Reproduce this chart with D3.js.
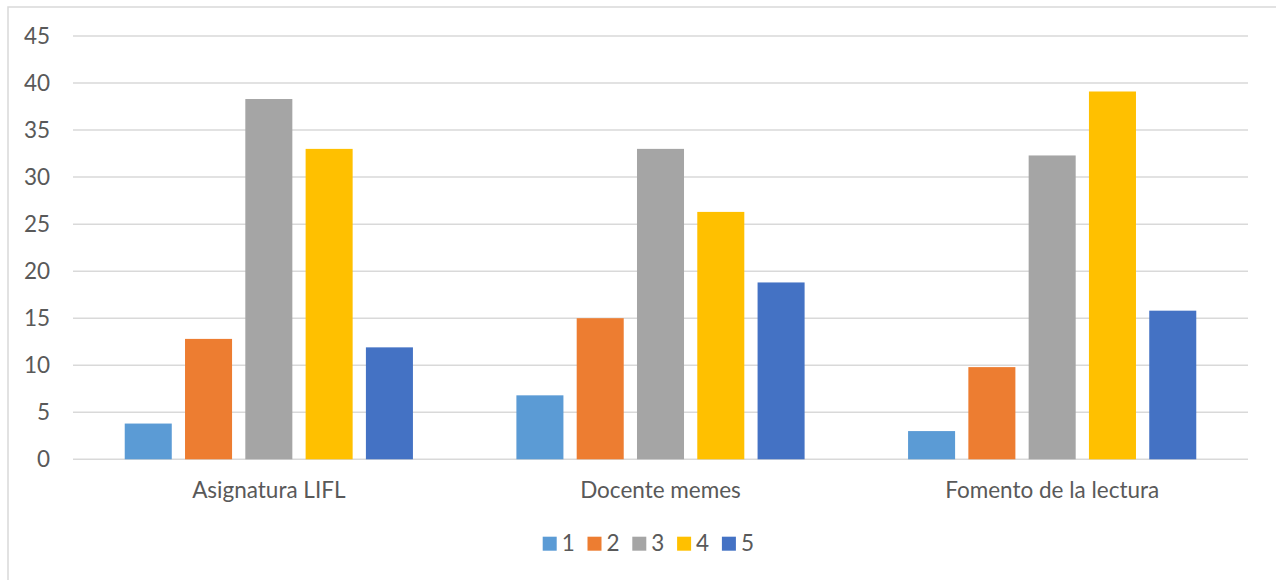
<!DOCTYPE html>
<html>
<head>
<meta charset="utf-8">
<script src="https://cdn.jsdelivr.net/npm/d3@7"></script>
<style>
  html, body { margin: 0; padding: 0; background: #fff; }
  svg { display: block; }
  text { font-family: Lato, "Open Sans", sans-serif; fill: #595959; }
</style>
</head>
<body>
<svg id="chart" width="1276" height="580"></svg>
<script>
const categories = ["Asignatura LIFL", "Docente memes", "Fomento de la lectura"];
const seriesNames = ["1", "2", "3", "4", "5"];
const series1 = [3.8, 6.8, 3.0];
const series2 = [12.8, 15.0, 9.8];
const series3 = [38.3, 33.0, 32.3];
const series4 = [33.0, 26.3, 39.1];
const series5 = [11.9, 18.8, 15.8];
const seriesValues = [series1, series2, series3, series4, series5];
const colors = ["#5B9BD5", "#ED7D31", "#A5A5A5", "#FFC000", "#4472C4"];
const yTicks = [0, 5, 10, 15, 20, 25, 30, 35, 40, 45];

const svg = d3.select("#chart");
const W = 1276, H = 580;
const FS = 22.5;

// chart border (only left/top visible in frame)
svg.append("rect")
  .attr("x", 8).attr("y", 7)
  .attr("width", W + 20).attr("height", H + 20)
  .attr("fill", "none").attr("stroke", "#d9d9d9").attr("stroke-width", 1.5);

const plot = { left: 73, right: 1248, top: 36, bottom: 459.3 };

const x = d3.scaleBand().domain(categories).range([plot.left, plot.right]).padding(0);
const xs = d3.scaleBand().domain(seriesNames).range([0, x.bandwidth()])
  .paddingInner(0.22).paddingOuter(0.858);
const y = d3.scaleLinear().domain([0, 45]).range([plot.bottom, plot.top]);

// gridlines
svg.append("g").selectAll("line").data(yTicks).join("line")
  .attr("x1", plot.left).attr("x2", plot.right)
  .attr("y1", d => y(d)).attr("y2", d => y(d))
  .attr("stroke", "#d9d9d9").attr("stroke-width", 1.5);

// y tick labels
svg.append("g").selectAll("text").data(yTicks).join("text")
  .attr("x", 50).attr("y", d => y(d))
  .attr("dy", "0.36em")
  .attr("text-anchor", "end")
  .attr("font-size", FS)
  .text(d => d);

// bars
const data = [];
categories.forEach((c, ci) => {
  seriesNames.forEach((s, si) => {
    data.push({ cat: c, ser: s, value: seriesValues[si][ci], color: colors[si] });
  });
});
svg.append("g").selectAll("rect").data(data).join("rect")
  .attr("x", d => x(d.cat) + xs(d.ser))
  .attr("width", xs.bandwidth())
  .attr("y", d => y(d.value))
  .attr("height", d => y(0) - y(d.value))
  .attr("fill", d => d.color);

// category labels
svg.append("g").selectAll("text").data(categories).join("text")
  .attr("x", d => x(d) + x.bandwidth() / 2)
  .attr("y", 498)
  .attr("text-anchor", "middle")
  .attr("font-size", FS)
  .text(d => d);

// legend
const legend = svg.append("g").attr("transform", "translate(542.7,536.7)");
const li = legend.selectAll("g").data(seriesNames).join("g")
  .attr("transform", (d, i) => `translate(${i * 44.8},0)`);
li.append("rect").attr("width", 14).attr("height", 14).attr("fill", (d, i) => colors[i]);
li.append("text").attr("x", 19).attr("y", 14.5).attr("font-size", FS).text(d => d);
</script>
</body>
</html>
